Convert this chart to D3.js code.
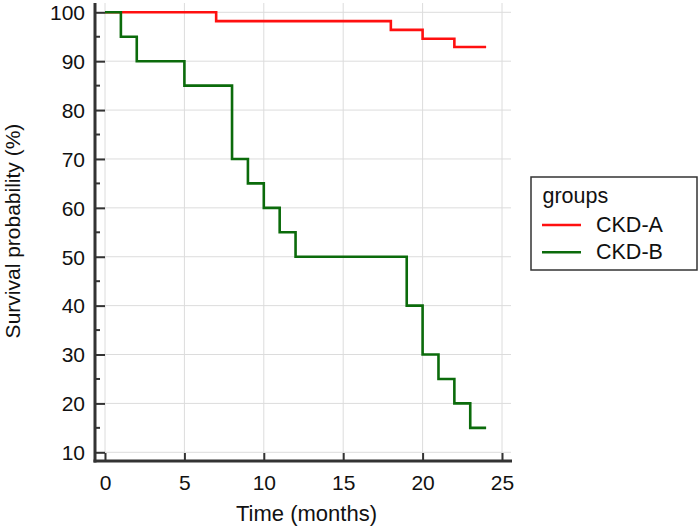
<!DOCTYPE html>
<html>
<head>
<meta charset="utf-8">
<script src="https://cdn.jsdelivr.net/npm/d3@7"></script>
<style>
  html, body { margin: 0; padding: 0; background: #fff; }
  svg { display: block; }
  text { font-family: "Liberation Sans", Arial, sans-serif; fill: #111; }
</style>
</head>
<body>
<svg id="chart" width="700" height="529"></svg>
<script>
// ---- data ----
const groupNames = ["CKD-A", "CKD-B"];
const timesA = [0, 7, 18, 20, 22, 24];
const survA  = [100, 98.2, 96.4, 94.6, 92.9, 92.9];
const timesB = [0, 1, 2, 5, 8, 9, 10, 11, 12, 19, 20, 21, 22, 23, 24];
const survB  = [100, 95, 90, 85, 70, 65, 60, 55, 50, 40, 30, 25, 20, 15, 15];
const xTicks = [0, 5, 10, 15, 20, 25];
const yTicks = [10, 20, 30, 40, 50, 60, 70, 80, 90, 100];
const yMinorTicks = [15, 25, 35, 45, 55, 65, 75, 85, 95];
const colors = ["#ff1010", "#0b6b0b"];

const svg = d3.select("#chart");
const x = d3.scaleLinear().domain([0, 25]).range([105, 502]);
const y = d3.scaleLinear().domain([10, 100]).range([452.3, 12.3]);
const axX = 95, axBottom = 461, plotRight = 511, plotTop = 3;
const FONT = "Liberation Sans, Arial, sans-serif";

// grid
const grid = svg.append("g").attr("stroke", "#dcdcdc").attr("stroke-width", 1);
grid.selectAll("line.v").data(xTicks).join("line")
  .attr("x1", d => x(d)).attr("x2", d => x(d))
  .attr("y1", plotTop).attr("y2", axBottom);
grid.selectAll("line.h").data(yTicks).join("line")
  .attr("x1", axX).attr("x2", plotRight)
  .attr("y1", d => y(d)).attr("y2", d => y(d));

// curves
const line = d3.line().x(d => x(d[0])).y(d => y(d[1])).curve(d3.curveStepAfter);
const series = [d3.zip(timesA, survA), d3.zip(timesB, survB)];
svg.append("g").selectAll("path").data(series).join("path")
  .attr("d", line)
  .attr("fill", "none")
  .attr("stroke", (d, i) => colors[i])
  .attr("stroke-width", 2.6);

// axes
const axisCol = "#333";
const yAxis = d3.axisLeft(y).tickValues(yTicks).tickSizeInner(-10).tickSizeOuter(0);
const gy = svg.append("g").attr("transform", `translate(${axX},0)`).call(yAxis);
gy.select(".domain").remove();
gy.selectAll(".tick line").attr("stroke", axisCol).attr("stroke-width", 2);
gy.selectAll(".tick text").attr("font-size", 21).attr("font-family", FONT).attr("fill", "#111")
  .attr("x", -10).attr("dy", "0.35em");
svg.append("g").selectAll("line").data(yMinorTicks).join("line")
  .attr("x1", axX).attr("x2", axX + 5)
  .attr("y1", d => y(d)).attr("y2", d => y(d))
  .attr("stroke", axisCol).attr("stroke-width", 2);

const xAxis = d3.axisBottom(x).tickValues(xTicks).tickSizeInner(-8).tickSizeOuter(0);
const gx = svg.append("g").attr("transform", `translate(0,${axBottom})`).call(xAxis);
gx.select(".domain").remove();
gx.selectAll(".tick line").attr("stroke", axisCol).attr("stroke-width", 2);
gx.selectAll(".tick text").attr("font-size", 21).attr("font-family", FONT).attr("fill", "#111")
  .attr("y", 29).attr("dy", 0);

svg.append("line").attr("x1", axX).attr("x2", axX).attr("y1", plotTop).attr("y2", axBottom + 1.5)
  .attr("stroke", axisCol).attr("stroke-width", 3);
svg.append("line").attr("x1", axX - 1.5).attr("x2", plotRight + 1).attr("y1", axBottom).attr("y2", axBottom)
  .attr("stroke", axisCol).attr("stroke-width", 3);

// titles
svg.append("text").attr("x", 306.5).attr("y", 521).attr("text-anchor", "middle")
  .attr("font-size", 22).text("Time (months)");
svg.append("text").attr("transform", "translate(19.5,231) rotate(-90)").attr("text-anchor", "middle")
  .attr("font-size", 21).text("Survival probability (%)");

// legend
const lg = svg.append("g");
lg.append("rect").attr("x", 531).attr("y", 177).attr("width", 166).attr("height", 93)
  .attr("fill", "#fff").attr("stroke", "#333").attr("stroke-width", 1.5);
lg.append("text").attr("x", 542.5).attr("y", 203).attr("font-size", 21.5).text("groups");
groupNames.forEach((name, i) => {
  const yy = 225 + i * 27.3;
  lg.append("line").attr("x1", 542).attr("x2", 581).attr("y1", yy).attr("y2", yy)
    .attr("stroke", colors[i]).attr("stroke-width", 2.6);
  lg.append("text").attr("x", 596).attr("y", yy + 6.5).attr("font-size", 21.5).text(name);
});
</script>
</body>
</html>
